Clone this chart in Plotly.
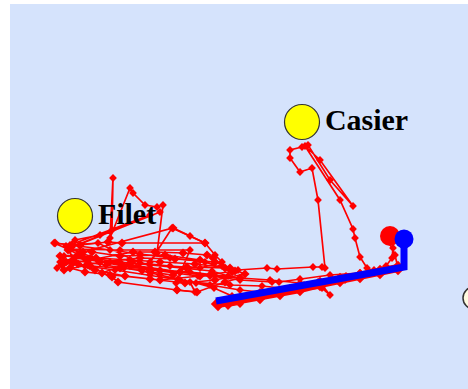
import plotly.graph_objects as go

# red track of the boat (screen-like coordinates, y grows downward)
track_x = [392, 393, 392, 386, 374, 360, 346, 332, 318, 304, 290, 276, 262, 248, 234, 220, 228, 240,
           232, 214, 196, 178, 160, 142, 124, 106, 88, 72, 62, 57,
           64, 90, 120, 150, 186, 212, 228, 198, 160, 122, 84, 70, 54, 80, 110, 140, 170, 205, 222, 238,
           267, 277, 313, 322, 325, 318, 312, 300, 290, 290, 302, 308, 330, 353, 320, 305, 340, 353, 355,
           360, 367, 375,
           330, 300, 279, 272, 240, 210, 180, 150, 110, 80, 66, 75, 100, 112, 113, 110, 130, 133, 145, 157,
           163, 157, 150, 172, 190, 205, 215, 222,
           200, 170, 140, 98, 70, 150, 72, 160, 68, 120, 190, 176, 177, 195, 190, 230, 262, 300, 322, 330,
           322, 300, 270, 240, 214, 190, 160, 130, 100, 75, 60, 85, 115, 150, 180, 210, 240, 260, 290,
           310, 345, 380, 398, 395, 388]
track_y = [236, 248, 258, 266, 270, 273, 276, 279, 282, 285, 288, 291, 294, 297, 300, 303, 306, 304,
           296, 288, 283, 279, 275, 271, 268, 265, 262, 260, 263, 268,
           256, 258, 262, 265, 268, 271, 276, 276, 271, 266, 258, 250, 243, 246, 250, 254, 258, 262, 266, 270,
           268, 269, 267, 267, 268, 200, 168, 172, 158, 150, 147, 145, 180, 206, 160, 146, 200, 229, 238,
           257, 268, 272,
           275, 279, 282, 282, 280, 276, 272, 268, 262, 253, 246, 240, 235, 230, 178, 238, 188, 193, 205, 207,
           205, 253, 262, 228, 236, 243, 255, 262,
           268, 266, 263, 243, 245, 215, 247, 212, 249, 250, 250, 283, 290, 292, 282, 285, 286, 290, 288, 295,
           285, 283, 280, 278, 275, 272, 270, 266, 262, 258, 262, 266, 270, 275, 280, 285, 290, 292, 290,
           286, 280, 274, 268, 255, 240]

# second day, mostly around the net
net_x = [55, 72, 80, 108, 122, 205, 173, 83, 62, 73, 133, 155, 183, 207, 213, 225, 187, 173, 150,
         132, 102, 112, 118, 177, 197, 225, 240, 210, 180, 150, 120, 90, 66, 60, 78, 96, 130, 160,
         195, 230, 245, 215, 185, 150, 110, 85, 70, 64, 88, 100, 140, 175, 215, 235, 200, 160, 125,
         95, 78, 68, 92, 120, 165, 200, 232]
net_y = [243, 245, 245, 242, 243, 243, 228, 252, 265, 263, 252, 252, 253, 255, 258, 268, 267, 275, 272,
         262, 273, 277, 282, 290, 292, 282, 278, 275, 272, 270, 268, 266, 262, 256, 255, 258, 260, 262,
         264, 268, 274, 280, 283, 279, 275, 272, 268, 270, 265, 262, 258, 259, 262, 271, 276, 280, 276,
         270, 264, 250, 252, 256, 255, 260, 272]

# blue track
blue_x = [216, 260, 300, 340, 380, 404, 404, 404]
blue_y = [301, 293, 285, 278, 271, 267, 255, 240]

# red path hidden under the blue one
under_x = [218, 240, 260, 280, 300, 320, 340, 360, 380, 398]
under_y = [304, 300, 297, 293, 289, 284, 280, 276, 272, 268]

# places
place_names = ["Filet", "Casier"]
place_x = [75, 302]
place_y = [216, 122]

fig = go.Figure()

fig.add_trace(go.Scatter(
    x=under_x, y=under_y, mode="lines+markers", line=dict(color="#ff0000", width=8),
    marker=dict(symbol="diamond", size=11, color="#ff0000")))

fig.add_trace(go.Scatter(
    x=net_x, y=net_y, mode="lines+markers",
    line=dict(color="#ff0000", width=1.7),
    marker=dict(symbol="diamond", size=7, color="#ff0000")))

fig.add_trace(go.Scatter(
    x=track_x, y=track_y, mode="lines+markers",
    line=dict(color="#ff0000", width=1.7),
    marker=dict(symbol="diamond", size=6, color="#ff0000")))

fig.add_trace(go.Scatter(
    x=blue_x, y=blue_y, mode="lines",
    line=dict(color="#0000ff", width=7)))

# harbour markers
fig.add_trace(go.Scatter(
    x=[390], y=[236], mode="markers",
    marker=dict(size=20, color="#ff0000")))
fig.add_trace(go.Scatter(
    x=[404], y=[239], mode="markers",
    marker=dict(size=19, color="#0000ff")))

# fishing places
fig.add_trace(go.Scatter(
    x=place_x, y=place_y, mode="markers+text",
    text=place_names, textposition="middle right",
    textfont=dict(family="Liberation Serif", size=30, color="black", weight="bold"),
    marker=dict(size=35, color="#ffff00", line=dict(color="#333333", width=1.2))))

# buoy partly out of view
fig.add_trace(go.Scatter(
    x=[474], y=[298], mode="markers",
    marker=dict(size=22, color="#fffbe0", line=dict(color="#333333", width=1.5))))

fig.update_layout(
    width=468, height=389,
    margin=dict(l=10, r=0, t=4, b=0),
    paper_bgcolor="white", plot_bgcolor="#d5e3fc",
    showlegend=False,
    xaxis=dict(range=[10, 468], visible=False),
    yaxis=dict(range=[389, 4], visible=False),
)

fig.write_html("out.html", config={"displayModeBar": False},
               post_script="document.body.style.margin='0px';")
